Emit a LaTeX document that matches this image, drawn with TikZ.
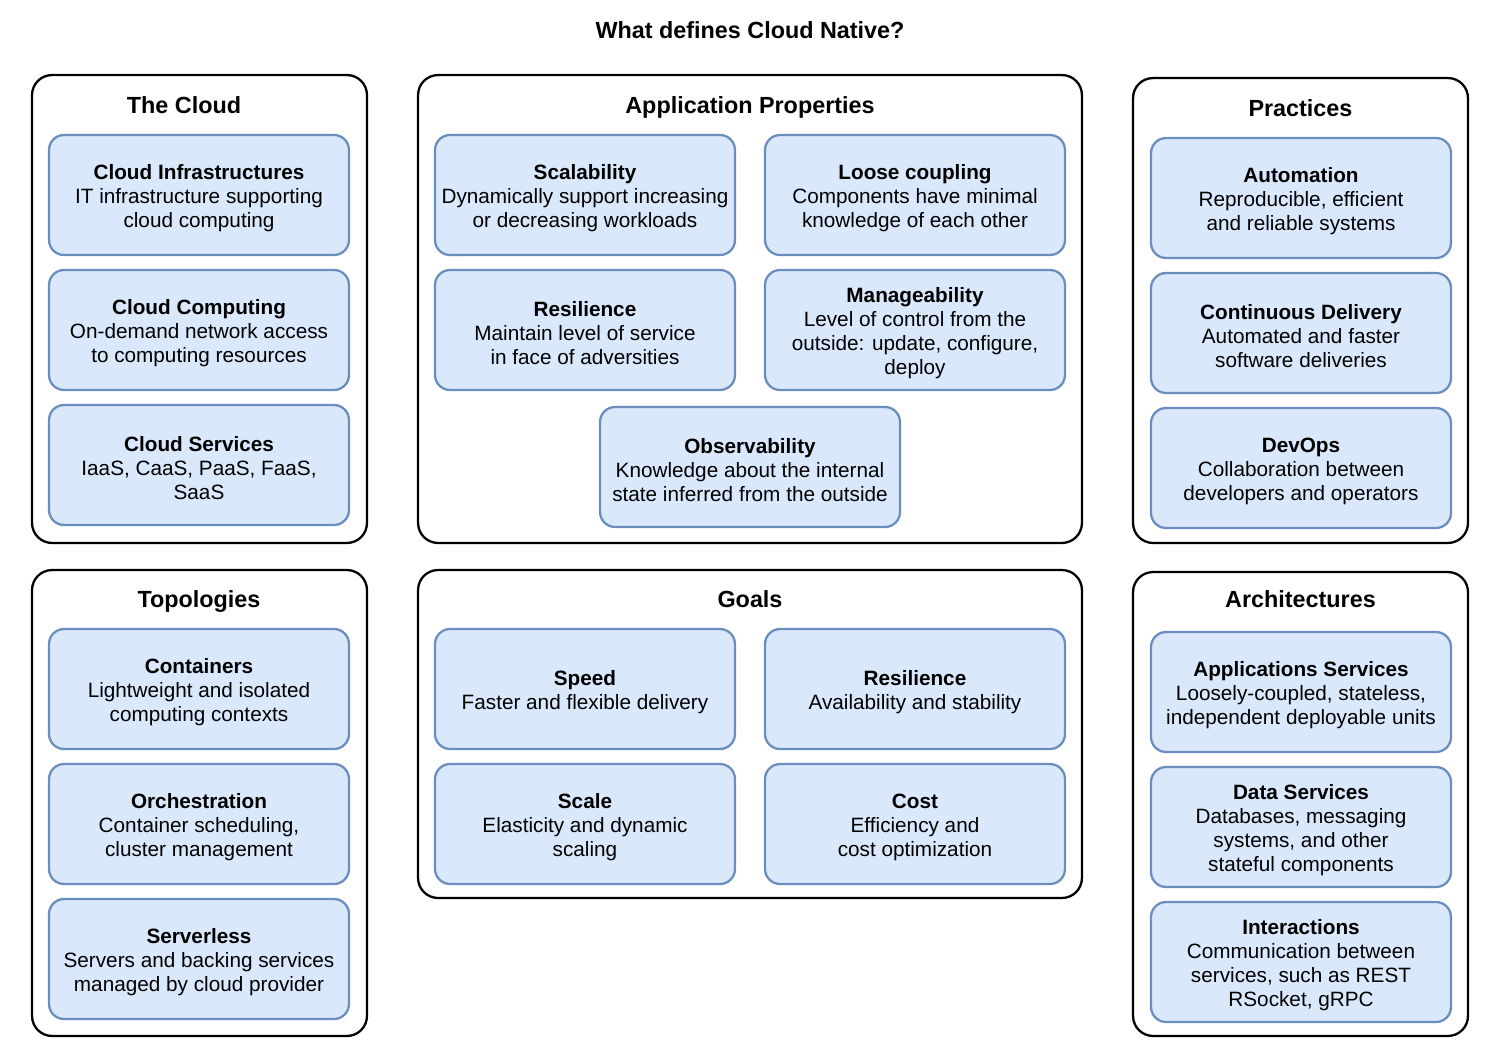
\documentclass[tikz,border=0pt]{standalone}
\usepackage{fontspec}
\setmainfont{Liberation Sans}
\definecolor{cardfill}{HTML}{DAE8FC}
\definecolor{carddraw}{HTML}{6C8EBF}
\newcommand{\cardhead}[1]{\rule{0pt}{12pt}\textbf{#1}}

\begin{document}
\begin{tikzpicture}[x=0.02cm,y=-0.02cm,
  group/.style={draw=black,line width=1.3pt,rounded corners=0.4cm,minimum width=6.7cm,inner sep=0},
  head/.style={font=\fontsize{13.3}{16}\selectfont\bfseries,anchor=base},
  card/.style={draw=carddraw,fill=cardfill,line width=1.3pt,rounded corners=0.3cm,
    minimum width=6cm,minimum height=2.4cm,align=center,inner sep=0,
    font=\fontsize{11.8}{13.6}\selectfont}]
  \useasboundingbox (0,0) rectangle (1500,1058);
  \node[head] (title) at (750,38) {What defines Cloud Native?};

  % outer groups
  \node[group,minimum height=9.36cm] (cloud) at (199.5,309) {};
  \node[group,minimum height=9.36cm,minimum width=13.28cm] (props) at (750,309) {};
  \node[group,minimum height=9.3cm] (practices) at (1300.5,310.5) {};
  \node[group,minimum height=9.32cm] (topo) at (199.5,803) {};
  \node[group,minimum height=6.56cm,minimum width=13.28cm] (goals) at (750,734) {};
  \node[group,minimum height=9.28cm] (arch) at (1300.5,804) {};

  \node[head] (cloudhead) at (184,113) {The Cloud};
  \node[head] (propshead) at (750,113) {Application Properties};
  \node[head] (practiceshead) at (1300.5,116) {Practices};
  \node[head] (topohead) at (199,607) {Topologies};
  \node[head] (goalshead) at (750,607) {Goals};
  \node[head] (archhead) at (1300.5,607) {Architectures};

  % The Cloud
  \node[card] (infra) at (199,195) {\cardhead{Cloud Infrastructures}\\IT infrastructure supporting\\cloud computing};
  \node[card] (computing) at (199,330) {\cardhead{Cloud Computing}\\On-demand network access\\to computing resources};
  \node[card] (services) at (199,465) {\cardhead{Cloud Services}\\IaaS, CaaS, PaaS, FaaS,\\SaaS};

  % Application Properties
  \node[card] (scalability) at (585,195) {\cardhead{Scalability}\\Dynamically support increasing\\or decreasing workloads};
  \node[card] (coupling) at (915,195) {\cardhead{Loose coupling}\\Components have minimal\\knowledge of each other};
  \node[card] (resilience) at (585,330) {\cardhead{Resilience}\\Maintain level of service\\in face of adversities};
  \node[card] (manage) at (915,330) {\cardhead{Manageability}\\Level of control from the\\outside: update, configure,\\deploy};
  \node[card] (observe) at (750,467) {\cardhead{Observability}\\Knowledge about the internal\\state inferred from the outside};

  % Practices
  \node[card] (automation) at (1301,198) {\cardhead{Automation}\\Reproducible, efficient\\and reliable systems};
  \node[card] (delivery) at (1301,333) {\cardhead{Continuous Delivery}\\Automated and faster\\software deliveries};
  \node[card] (devops) at (1301,468) {\cardhead{DevOps}\\Collaboration between\\developers and operators};

  % Topologies
  \node[card] (containers) at (199,689) {\cardhead{Containers}\\Lightweight and isolated\\computing contexts};
  \node[card] (orchestration) at (199,824) {\cardhead{Orchestration}\\Container scheduling,\\cluster management};
  \node[card] (serverless) at (199,959) {\cardhead{Serverless}\\Servers and backing services\\managed by cloud provider};

  % Goals
  \node[card] (speed) at (585,689) {\cardhead{Speed}\\Faster and flexible delivery};
  \node[card] (goalres) at (915,689) {\cardhead{Resilience}\\Availability and stability};
  \node[card] (scale) at (585,824) {\cardhead{Scale}\\Elasticity and dynamic\\scaling};
  \node[card] (cost) at (915,824) {\cardhead{Cost}\\Efficiency and\\cost optimization};

  % Architectures
  \node[card] (appservices) at (1301,692) {\cardhead{Applications Services}\\Loosely-coupled, stateless,\\independent deployable units};
  \node[card] (dataservices) at (1301,827) {\cardhead{Data Services}\\Databases, messaging\\systems, and other\\stateful components};
  \node[card] (interactions) at (1301,962) {\cardhead{Interactions}\\Communication between\\services, such as REST\\RSocket, gRPC};
\end{tikzpicture}
\end{document}
